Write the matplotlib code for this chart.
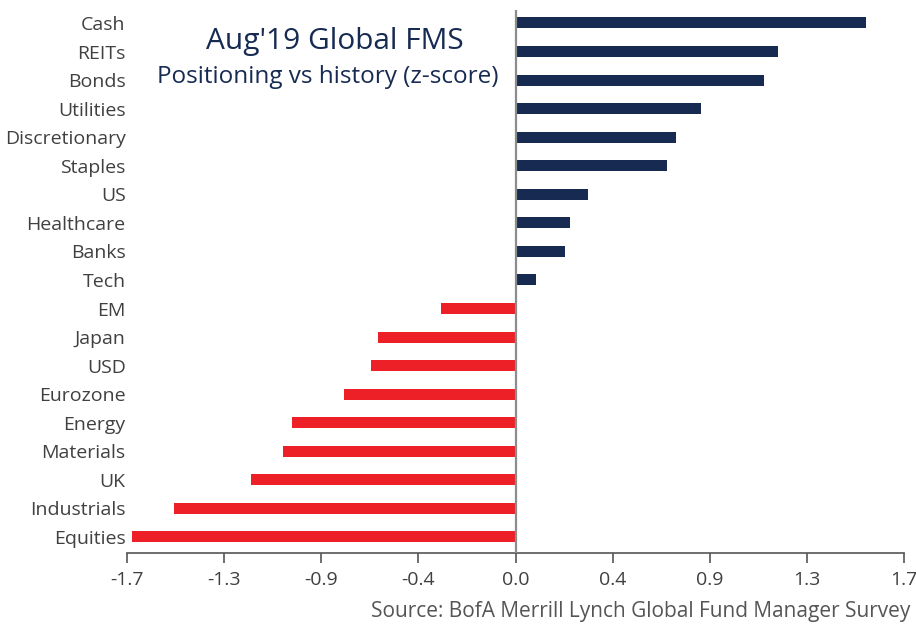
import numpy as np
import matplotlib.pyplot as plt
from matplotlib.ticker import FuncFormatter

# positioning z-scores, top to bottom
categories = ["Cash", "REITs", "Bonds", "Utilities", "Discretionary", "Staples",
              "US", "Healthcare", "Banks", "Tech", "EM", "Japan", "USD",
              "Eurozone", "Energy", "Materials", "UK", "Industrials", "Equities"]
zscores = [1.55, 1.16, 1.10, 0.82, 0.71, 0.67, 0.32, 0.24, 0.22, 0.09,
           -0.33, -0.61, -0.64, -0.76, -0.99, -1.03, -1.17, -1.51, -1.70]
xticks = [-1.72, -1.29, -0.86, -0.43, 0.0, 0.43, 0.86, 1.29, 1.72]

navy = "#172b52"
red = "#ee2027"
grey = "#404040"
font = "Open Sans"

fig = plt.figure(figsize=(9.16, 6.24), dpi=100)
ax = fig.add_axes([0.1387, 0.1138, 0.9870 - 0.1387, 0.984 - 0.1138])

y = np.arange(len(categories))
colors = [navy if v > 0 else red for v in zscores]
ax.barh(y, zscores, height=0.385, color=colors)

ax.set_ylim(len(categories) - 1 + 0.56, -0.455)
ax.set_xlim(xticks[0], xticks[-1])
ax.axvline(0, color="#8c8c8c", lw=1.6, zorder=3)

ax.set_yticks(y)
ax.set_yticklabels(categories, fontsize=14, color=grey, family=font)
ax.tick_params(axis="y", length=0, pad=1)

ax.set_xticks(xticks)
ax.xaxis.set_major_formatter(FuncFormatter(lambda v, p: "%.1f" % v))
ax.tick_params(axis="x", direction="out", length=7, width=1.2, color="#555555",
               labelsize=14, labelcolor=grey, pad=6)
for lab in ax.get_xticklabels():
    lab.set_family(font)

for s in ["top", "right", "left"]:
    ax.spines[s].set_visible(False)
ax.spines["bottom"].set_color("#555555")
ax.spines["bottom"].set_linewidth(1.2)

fig.text(335 / 916, 1 - 42 / 624, "Aug'19 Global FMS", ha="center", va="center",
         fontsize=21.5, color=navy, family=font)
fig.text(328 / 916, 1 - 77 / 624, "Positioning vs history (z-score)", ha="center",
         va="center", fontsize=17.5, color=navy, family=font)
fig.text(910 / 916, 1 - 612 / 624, "Source: BofA Merrill Lynch Global Fund Manager Survey",
         ha="right", va="center", fontsize=15, color="#555555", family=font)

fig.savefig("out.png", dpi=100)
